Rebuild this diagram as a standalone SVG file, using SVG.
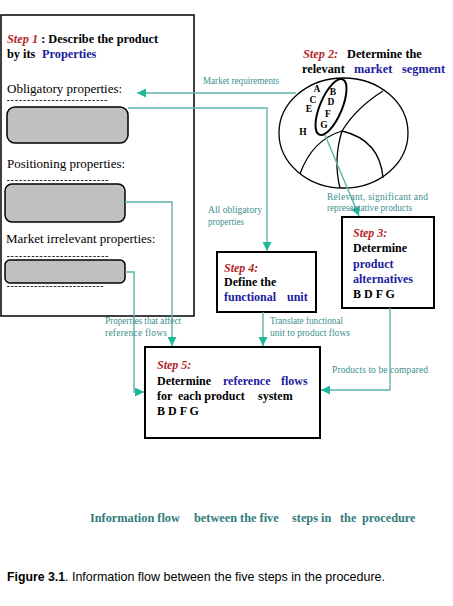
<svg xmlns="http://www.w3.org/2000/svg" width="453" height="606" viewBox="0 0 453 606">
<defs>
<style>
.serif{font-family:"Liberation Serif","Times New Roman",serif}
.b{font-weight:bold}
.red{fill:#b5262b;font-style:italic;font-weight:bold}
.blue{fill:#1c1ca0;font-weight:bold}
.blk{fill:#000}
.lbl{font-family:"Liberation Serif","Times New Roman",serif;font-size:9.5px;fill:#3a8f8a}
.box{fill:#fff;stroke:#000;stroke-width:2}
.pill{fill:#c0c0c0;stroke:#000;stroke-width:1.5}
.dash{font-family:"Liberation Serif",serif;font-size:7.5px;fill:#000;stroke:#000;stroke-width:0.35}
.conn{fill:none;stroke:#5fb3ab;stroke-width:1.4}
.seg{fill:none;stroke:#000;stroke-width:1.3}
.let{font-family:"Liberation Serif",serif;font-size:9.5px;font-weight:bold;text-anchor:middle;fill:#000}
</style>
<marker id="ah" viewBox="0 0 10 10" refX="10" refY="5" markerWidth="9" markerHeight="9" markerUnits="userSpaceOnUse" orient="auto">
<path d="M0,0 L10,5 L0,10 z" fill="#1fb89a"/>
</marker>
</defs>
<rect width="453" height="606" fill="#fff"/>

<g id="step1">
<rect x="1" y="15" width="193" height="301" fill="#fff" stroke="#000" stroke-width="1.5"/>
<text class="serif b" font-size="12.3" y="43"><tspan x="7" class="red">Step 1 </tspan><tspan class="blk">:  Describe the product</tspan></text>
<text class="serif b" font-size="12.3" y="58"><tspan x="7" class="blk">by its </tspan><tspan x="42" class="blue">Properties</tspan></text>
<text class="serif" font-size="13" x="7" y="93">Obligatory properties:</text>
<text class="dash" x="7" y="103.3" textLength="100" lengthAdjust="spacing">-------------------------</text>
<rect class="pill" x="7" y="107" width="121" height="36" rx="8"/>
<text class="serif" font-size="13" x="7" y="168">Positioning properties:</text>
<text class="dash" x="7" y="183.3" textLength="101" lengthAdjust="spacing">-------------------------</text>
<rect class="pill" x="5" y="184" width="120" height="38" rx="7"/>
<text class="serif" font-size="13" x="6" y="243">Market irrelevant properties:</text>
<text class="dash" x="7" y="259.3" textLength="101" lengthAdjust="spacing">-------------------------</text>
<rect class="pill" x="5" y="260" width="120" height="23" rx="5"/>
<text class="dash" x="7" y="289.3" textLength="96" lengthAdjust="spacing">-------------------------</text>
</g>

<g id="step2">
<text class="serif b" font-size="12.3" y="58"><tspan x="303" class="red">Step 2:</tspan><tspan x="347" class="blk">Determine the</tspan></text>
<text class="serif b" font-size="12.3" y="73"><tspan x="302" class="blk">relevant</tspan><tspan x="354" class="blue">market</tspan><tspan x="402" class="blue">segment</tspan></text>
<ellipse cx="343.5" cy="133" rx="64.5" ry="55" class="seg"/>
<ellipse cx="331" cy="107" rx="11" ry="30" transform="rotate(23 331 107)" fill="none" stroke="#000" stroke-width="2"/>
<path class="seg" d="M383,91 Q356,108 342,131"/>
<path class="seg" d="M342,131 Q380,140 383,178"/>
<path class="seg" d="M342,131 Q333,160 340,188"/>
<path class="seg" d="M342,131 Q312,140 300,174"/>
<text class="let" x="317" y="92">A</text>
<text class="let" x="333" y="95">B</text>
<text class="let" x="313" y="103">C</text>
<text class="let" x="331" y="105">D</text>
<text class="let" x="309" y="112">E</text>
<text class="let" x="328" y="117">F</text>
<text class="let" x="324" y="128">G</text>
<text class="let" x="303" y="135">H</text>
</g>

<g id="step3">
<rect class="box" x="342" y="217" width="92" height="91"/>
<text class="serif red" font-size="12" x="353" y="237">Step 3:</text>
<text class="serif b" font-size="12" x="353" y="252">Determine</text>
<text class="serif blue" font-size="12" x="353" y="268">product</text>
<text class="serif blue" font-size="12" x="353" y="283">alternatives</text>
<text class="serif b" font-size="12" x="353" y="298">B D F G</text>
</g>

<g id="step4">
<rect class="box" x="217" y="252" width="99" height="60"/>
<text class="serif red" font-size="12" x="224" y="272">Step 4:</text>
<text class="serif b" font-size="12" x="224" y="286">Define the</text>
<text class="serif blue" font-size="12" y="301"><tspan x="224">functional</tspan><tspan x="287">unit</tspan></text>
</g>

<g id="step5">
<rect class="box" x="145" y="347" width="175" height="91"/>
<text class="serif red" font-size="12" x="157" y="369">Step 5:</text>
<text class="serif b" font-size="12" y="385"><tspan x="157">Determine</tspan><tspan x="223" class="blue">reference</tspan><tspan x="281" class="blue">flows</tspan></text>
<text class="serif b" font-size="12" y="400"><tspan x="157">for</tspan><tspan x="178">each product</tspan><tspan x="258">system</tspan></text>
<text class="serif b" font-size="12" x="157" y="415">B D F G</text>
</g>

<g id="connectors">
<path class="conn" d="M296,93 H137" marker-end="url(#ah)"/>
<path class="conn" d="M128,108 H267 V251" marker-end="url(#ah)"/>
<path class="conn" d="M125,202 H172 V346" marker-end="url(#ah)"/>
<path class="conn" d="M125,272 H134 V392 H144" marker-end="url(#ah)"/>
<path class="conn" d="M263,312 V346" marker-end="url(#ah)"/>
<path class="conn" d="M390,308 V390 H321" marker-end="url(#ah)"/>
<path class="conn" d="M325,135 L359,216" marker-end="url(#ah)"/>
<text class="lbl" x="203" y="84" textLength="76" lengthAdjust="spacingAndGlyphs">Market requirements</text>
<text class="lbl" x="208" y="213" textLength="54" lengthAdjust="spacing">All  obligatory</text>
<text class="lbl" x="208" y="225" textLength="36" lengthAdjust="spacingAndGlyphs">properties</text>
<text class="lbl" x="327" y="200" textLength="101" lengthAdjust="spacing">Relevant,  significant   and</text>
<text class="lbl" x="327" y="211" textLength="85" lengthAdjust="spacingAndGlyphs">representative products</text>
<text class="lbl" x="270" y="324" textLength="73" lengthAdjust="spacingAndGlyphs">Translate functional</text>
<text class="lbl" x="270" y="336" textLength="80" lengthAdjust="spacing">unit to   product flows</text>
<text class="lbl" x="105" y="324" textLength="76" lengthAdjust="spacingAndGlyphs">Properties that affect</text>
<text class="lbl" x="105" y="336" textLength="62" lengthAdjust="spacing">reference    flows</text>
<text class="lbl" x="332" y="373" textLength="96" lengthAdjust="spacing">Products   to  be compared</text>
</g>

<g id="caption">
<text class="serif b" font-size="12.3" y="522" fill="#2f7d7b"><tspan x="90">Information flow</tspan><tspan x="194">between the five</tspan><tspan x="292">steps in</tspan><tspan x="340">the</tspan><tspan x="362">procedure</tspan></text>
<text font-family="Liberation Sans, Arial, sans-serif" font-size="13.5" font-weight="bold" x="7" y="581" textLength="58" lengthAdjust="spacingAndGlyphs">Figure 3.1</text>
<text font-family="Liberation Sans, Arial, sans-serif" font-size="13.5" x="65" y="581" textLength="320" lengthAdjust="spacingAndGlyphs">. Information flow between the five steps in the procedure.</text>
</g>
</svg>
